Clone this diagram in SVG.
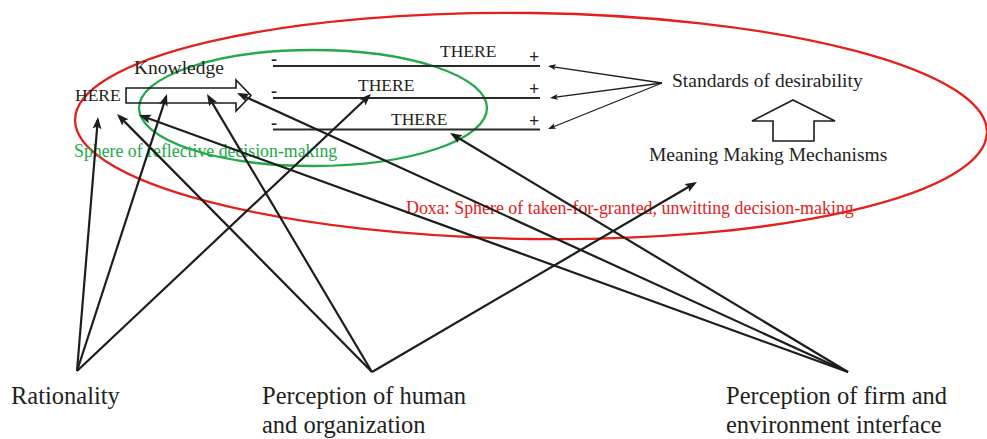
<svg xmlns="http://www.w3.org/2000/svg" width="987" height="439" viewBox="0 0 987 439">
<style>
text{font-family:"Liberation Serif","Times New Roman",serif;fill:#231f20}
.cap{font-size:17.5px}
.lbl{font-size:19.5px}
.big{font-size:24.5px}
.green{fill:#23a84a;font-size:17.8px}
.red{fill:#e3201b;font-size:17.9px}
.sign{font-size:18px;font-weight:bold}
.conn{stroke:#1d1d1b;stroke-width:2.2;fill:none;marker-end:url(#ah)}
.thin{stroke:#1d1d1b;stroke-width:1.3;fill:none;marker-end:url(#ahs)}
.bar{stroke:#2a2a2a;stroke-width:1.8}
.hollow{fill:none;stroke:#1d1d1b;stroke-width:1.6;stroke-linejoin:miter}
</style>
<defs>
<marker id="ah" markerUnits="userSpaceOnUse" markerWidth="13" markerHeight="10" refX="9" refY="4.5" orient="auto">
<path d="M0,0 L12,4.5 L0,9 L2.5,4.5 z" fill="#1d1d1b"/>
</marker>
<marker id="ahs" markerUnits="userSpaceOnUse" markerWidth="9" markerHeight="7" refX="6" refY="3" orient="auto">
<path d="M0,0 L8,3 L0,6 L2,3 z" fill="#1d1d1b"/>
</marker>
</defs>
<rect width="987" height="439" fill="#fff"/>
<g id="doxa">
<ellipse cx="531" cy="126" rx="456" ry="113" transform="rotate(0.8 531 126)" fill="none" stroke="#e3201b" stroke-width="2.3"/>
<text class="red" x="406" y="214">Doxa: Sphere of taken-for-granted, unwitting decision-making</text>
</g>
<g id="reflective">
<ellipse cx="313" cy="108" rx="174" ry="58" fill="none" stroke="#23a84a" stroke-width="2.3"/>
<text class="green" x="74" y="157">Sphere of reflective decision-making</text>
</g>
<g id="here">
<text class="cap" x="75" y="101">HERE</text>
</g>
<g id="knowledge">
<polygon class="hollow" points="126,88 236,88 236,80 251,95.5 236,111 236,103 126,103"/>
<text class="lbl" x="134" y="74">Knowledge</text>
</g>
<g id="there1">
<line class="bar" x1="273" y1="66" x2="540" y2="66"/>
<text class="sign" x="271" y="65">-</text>
<text class="sign" x="529" y="63">+</text>
<text class="cap" x="440" y="57">THERE</text>
</g>
<g id="there2">
<line class="bar" x1="273" y1="98" x2="540" y2="98"/>
<text class="sign" x="271" y="97">-</text>
<text class="sign" x="529" y="95">+</text>
<text class="cap" x="358" y="91">THERE</text>
</g>
<g id="there3">
<line class="bar" x1="273" y1="129.5" x2="540" y2="129.5"/>
<text class="sign" x="271" y="129">-</text>
<text class="sign" x="529" y="127">+</text>
<text class="cap" x="391" y="125">THERE</text>
</g>
<g id="standards">
<text class="lbl" x="672" y="87">Standards of desirability</text>
</g>
<g id="meaning">
<polygon class="hollow" points="793,100 835,121 814,121 814,141 773,141 773,121 752,121"/>
<text class="lbl" x="649" y="161">Meaning Making Mechanisms</text>
</g>
<g id="rationality">
<text class="big" x="11" y="404">Rationality</text>
</g>
<g id="human">
<text class="big" x="262" y="404">Perception of human</text>
<text class="big" x="262" y="433">and organization</text>
</g>
<g id="firm">
<text class="big" x="726" y="404">Perception of firm and</text>
<text class="big" x="726" y="433">environment interface</text>
</g>
<g id="connectors">
<line class="conn" x1="77" y1="371" x2="97.75" y2="119.99"/>
<line class="conn" x1="77" y1="371" x2="166.07" y2="96.85"/>
<line class="conn" x1="77" y1="371" x2="368.82" y2="96.06"/>
<line class="conn" x1="372" y1="372" x2="119.11" y2="116.13"/>
<line class="conn" x1="372" y1="372" x2="208.53" y2="96.58"/>
<line class="conn" x1="372" y1="372" x2="694.41" y2="183.51"/>
<line class="conn" x1="848" y1="372" x2="141.82" y2="116.02"/>
<line class="conn" x1="848" y1="372" x2="239.73" y2="94.25"/>
<line class="conn" x1="848" y1="372" x2="452.57" y2="134.54"/>
<line class="thin" x1="662" y1="83" x2="549.98" y2="66.29"/>
<line class="thin" x1="662" y1="83" x2="551.98" y2="97.73"/>
<line class="thin" x1="662" y1="83" x2="549.85" y2="128.25"/>
</g>
</svg>
